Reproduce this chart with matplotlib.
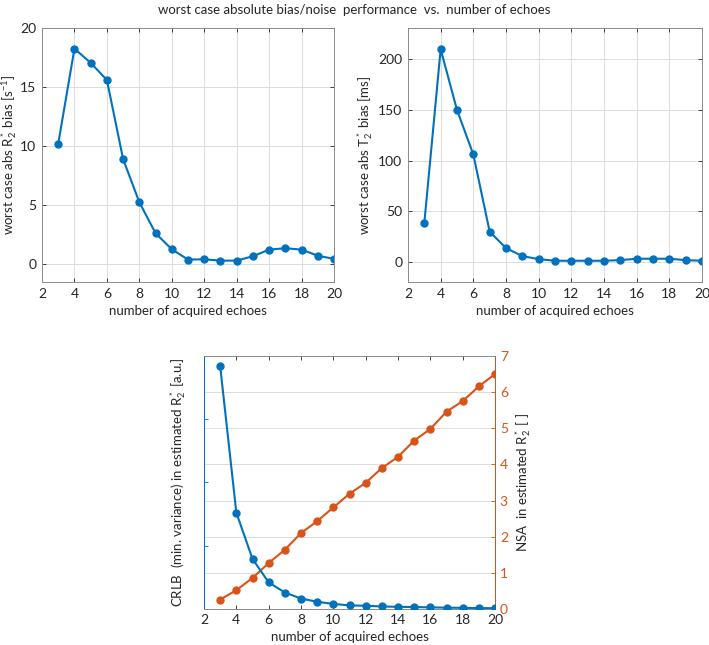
'''
Worst case bias/noise performance vs. number of echoes
'''

import numpy as np
import matplotlib.pyplot as plt

# ═══ Data ═════════════════════════════════════════════════════════════════

echoes = np.arange(3, 21)

# worst case abs R2* bias [1/s]
r2_bias = [10.2, 18.25, 17.05, 15.6, 8.9, 5.25, 2.63, 1.27, 0.40, 0.42,
           0.31, 0.31, 0.68, 1.24, 1.36, 1.24, 0.73, 0.45]

# worst case abs T2* bias [ms]
t2_bias = [38.5, 210, 150, 106, 29.7, 13.5, 5.6, 2.6, 1.0, 1.0,
           1.0, 1.0, 1.6, 3.0, 3.0, 3.0, 1.6, 1.0]

# CRLB (a.u.) and NSA
crlb = [3.83, 1.52, 0.79, 0.42, 0.26, 0.165, 0.114, 0.08, 0.057, 0.051,
        0.04, 0.034, 0.031, 0.025, 0.021, 0.018, 0.015, 0.012]
nsa = [0.26, 0.52, 0.86, 1.27, 1.64, 2.10, 2.43, 2.81, 3.19, 3.49,
       3.90, 4.21, 4.66, 4.98, 5.46, 5.75, 6.16, 6.50]

x_ticks = np.arange(2, 21, 2)

# ═══ Style ════════════════════════════════════════════════════════════════

blue = '#0072BD'
orange = '#D95319'
edge = '#262626'

plt.rcParams['font.family'] = ['Lato', 'DejaVu Sans']
plt.rcParams['font.size'] = 9.5
plt.rcParams['mathtext.fontset'] = 'custom'
plt.rcParams['mathtext.rm'] = 'Lato'
plt.rcParams['mathtext.it'] = 'Lato'

fig = plt.figure(figsize=(7.09, 6.45), dpi=100)
W, H = 709, 645

def place(l, t, r, b):
  return [l/W, 1 - b/H, (r - l)/W, (b - t)/H]

def style(ax):
  ax.tick_params(direction='in', length=3, top=True, right=True, colors=edge,
                 labelcolor=edge, width=0.6, labelsize=10, pad=4)
  for s in ax.spines.values():
    s.set_color('#8c8c8c')
    s.set_linewidth(0.7)
  ax.grid(True, color='#dcdcdc', linewidth=0.7)
  ax.set_axisbelow(True)

# ─── Top left ─────────────────────────────────

ax1 = fig.add_axes(place(42, 28, 334, 282))
ax1.plot(echoes, r2_bias, '-o', color=blue, lw=1.5, ms=5)
ax1.set_xlim(2, 20)
ax1.set_ylim(-1.5, 20)
ax1.set_xticks(x_ticks)
ax1.set_yticks([0, 5, 10, 15, 20])
ax1.set_xlabel('number of acquired echoes', color=edge)
ax1.set_ylabel(r'worst case abs R$_2^*$ bias [s$^{-1}$]', color=edge, labelpad=0.5)
style(ax1)

# ─── Top right ────────────────────────────────

ax2 = fig.add_axes(place(408, 28, 702, 282))
ax2.plot(echoes, t2_bias, '-o', color=blue, lw=1.5, ms=5)
ax2.set_xlim(2, 20)
ax2.set_ylim(-20, 231)
ax2.set_xticks(x_ticks)
ax2.set_yticks([0, 50, 100, 150, 200])
ax2.set_xlabel('number of acquired echoes', color=edge)
ax2.set_ylabel(r'worst case abs T$_2^*$ bias [ms]', color=edge, labelpad=2)
style(ax2)

# ─── Bottom: CRLB and NSA ─────────────────────

ax3 = fig.add_axes(place(204, 356, 495, 609))
ax3.plot(echoes, crlb, '-o', color=blue, lw=1.5, ms=5, zorder=3)
ax3.set_xlim(2, 20)
ax3.set_ylim(0, 3.99)
ax3.set_xticks(x_ticks)
ax3.set_yticks([0, 1, 2, 3])
ax3.set_yticklabels([])
ax3.tick_params(direction='in', length=3, top=True, right=False, colors=edge,
                labelcolor=edge, width=0.6, labelsize=10)
ax3.tick_params(axis='y', colors=blue)
ax3.set_xlabel('number of acquired echoes', color=edge)
ax3.set_ylabel(r'CRLB  (min. variance) in estimated R$_2^*$ [a.u.]', color=edge,
               labelpad=8)

ax4 = ax3.twinx()
ax4.plot(echoes, nsa, '-o', color=orange, lw=1.5, ms=5)
ax4.set_ylim(0, 7)
ax4.set_yticks(range(8))
ax4.tick_params(axis='y', direction='in', length=3, colors=orange,
                labelcolor=orange, width=0.6, labelsize=10)
ax4.set_ylabel(r'NSA  in estimated R$_2^*$ [ ]', color=edge)
ax4.grid(True, axis='y', color='#dcdcdc', linewidth=0.7)
ax4.set_zorder(0)
ax3.set_zorder(1)
ax3.patch.set_visible(False)

for ax in (ax3, ax4):
  ax.spines['top'].set_color('#8c8c8c')
  ax.spines['bottom'].set_color('#8c8c8c')
  ax.spines['left'].set_color(blue)
  ax.spines['right'].set_color(orange)
  for s in ax.spines.values():
    s.set_linewidth(0.7)

fig.text(0.5, 1 - 10/H, 'worst case absolute bias/noise  performance  vs.  number of echoes',
         ha='center', va='center', color=edge, fontsize=9.5)

fig.savefig('out.png', dpi=100)
